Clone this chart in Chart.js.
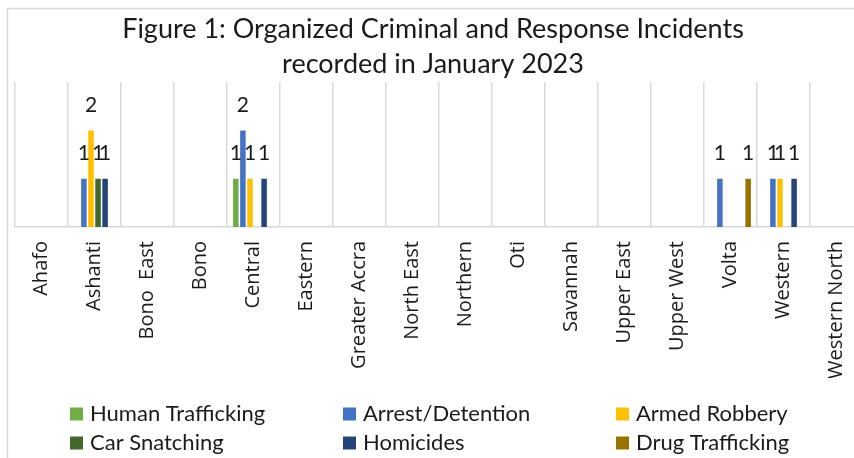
<!DOCTYPE html>
<html>
<head>
<meta charset="utf-8">
<script src="https://cdn.jsdelivr.net/npm/chart.js@4/dist/chart.umd.min.js"></script>
<style>
  html, body { margin: 0; padding: 0; background: #fff; overflow: hidden; }
  #wrap { position: relative; width: 866px; height: 458px; }
</style>
</head>
<body>
<div id="wrap"><canvas id="c" width="866" height="458"></canvas></div>
<script>
const regions = ["Ahafo","Ashanti","Bono  East","Bono","Central","Eastern","Greater Accra","North East","Northern","Oti","Savannah","Upper East","Upper West","Volta","Western","Western North"];
const humanTrafficking = [0,0,0,0,1,0,0,0,0,0,0,0,0,0,0,0];
const arrestDetention  = [0,1,0,0,2,0,0,0,0,0,0,0,0,1,1,0];
const armedRobbery     = [0,2,0,0,1,0,0,0,0,0,0,0,0,0,1,0];
const carSnatching     = [0,1,0,0,0,0,0,0,0,0,0,0,0,0,0,0];
const homicides        = [0,1,0,0,1,0,0,0,0,0,0,0,0,0,1,0];
const drugTrafficking  = [0,0,0,0,0,0,0,0,0,0,0,0,0,1,0,0];
const seriesNames = ["Human Trafficking","Arrest/Detention","Armed Robbery","Car Snatching","Homicides","Drug Trafficking"];
const seriesColors = ["#70AD47","#4472C4","#FFC000","#43682B","#264478","#997300"];
const titleLines = ["Figure 1: Organized Criminal and Response Incidents","recorded in January 2023"];

const seriesData = [humanTrafficking, arrestDetention, armedRobbery, carSnatching, homicides, drugTrafficking];

const framePlugin = {
  id: 'frame',
  beforeDraw(chart) {
    const ctx = chart.ctx;
    ctx.save();
    ctx.fillStyle = '#ffffff';
    ctx.fillRect(0, 0, chart.width, chart.height);
    ctx.strokeStyle = '#d9d9d9';
    ctx.lineWidth = 1.5;
    ctx.beginPath();
    ctx.moveTo(7.5, chart.height + 5);
    ctx.lineTo(7.5, 8.5);
    ctx.lineTo(chart.width + 5, 8.5);
    ctx.stroke();
    ctx.restore();
  }
};

const valueLabels = {
  id: 'valueLabels',
  afterDatasetsDraw(chart) {
    const ctx = chart.ctx;
    ctx.save();
    ctx.font = '21px Lato';
    ctx.fillStyle = '#1a1a1a';
    ctx.textAlign = 'center';
    ctx.textBaseline = 'middle';
    chart.data.datasets.forEach((ds, i) => {
      const meta = chart.getDatasetMeta(i);
      meta.data.forEach((el, j) => {
        const v = ds.data[j];
        if (v > 0) ctx.fillText(String(v), el.x, el.y - 25);
      });
    });
    ctx.restore();
  }
};

const gridLegend = {
  id: 'gridLegend',
  afterDraw(chart) {
    const ctx = chart.ctx;
    const colX = [70, 343, 616];
    const rowY = [414, 443];
    ctx.save();
    ctx.font = '22px Lato';
    ctx.textBaseline = 'middle';
    ctx.textAlign = 'left';
    chart.data.datasets.forEach((ds, i) => {
      const x = colX[i % 3];
      const y = rowY[Math.floor(i / 3)];
      ctx.fillStyle = ds.backgroundColor;
      ctx.fillRect(x, y - 6.5, 13, 13);
      ctx.fillStyle = '#1a1a1a';
      ctx.fillText(ds.label, x + 20, y);
    });
    ctx.restore();
  }
};

new Chart(document.getElementById('c'), {
  type: 'bar',
  data: {
    labels: regions,
    datasets: seriesNames.map((n, i) => ({
      label: n,
      data: seriesData[i],
      backgroundColor: seriesColors[i],
      categoryPercentage: 0.8,
      barPercentage: 0.78
    }))
  },
  options: {
    responsive: false,
    animation: false,
    devicePixelRatio: 1,
    layout: { padding: { left: 3, right: 3, top: 0, bottom: 80 } },
    plugins: {
      legend: { display: false },
      tooltip: { enabled: false },
      title: {
        display: true,
        text: titleLines,
        color: '#1a1a1a',
        font: { family: 'Lato', size: 27, weight: '400', lineHeight: 1.3 },
        padding: { top: 12, bottom: 0 }
      }
    },
    scales: {
      x: {
        offset: true,
        grid: { offset: true, display: true, color: '#d9d9d9', lineWidth: 1.5, drawTicks: false },
        border: { display: true, color: '#d9d9d9', width: 1.5 },
        ticks: {
          color: '#1a1a1a',
          font: { family: 'Open Sans', size: 20 },
          minRotation: 90, maxRotation: 90,
          autoSkip: false,
          padding: 14
        },
        afterFit(scale) {
          scale.height = 151;
          scale.paddingLeft = 0;
          scale.paddingRight = 0;
        }
      },
      y: {
        display: true,
        min: 0,
        max: 3,
        ticks: { display: false },
        grid: { display: false },
        border: { display: false },
        afterFit(scale) { scale.width = 12; }
      }
    }
  },
  plugins: [framePlugin, valueLabels, gridLegend]
});
</script>
</body>
</html>
